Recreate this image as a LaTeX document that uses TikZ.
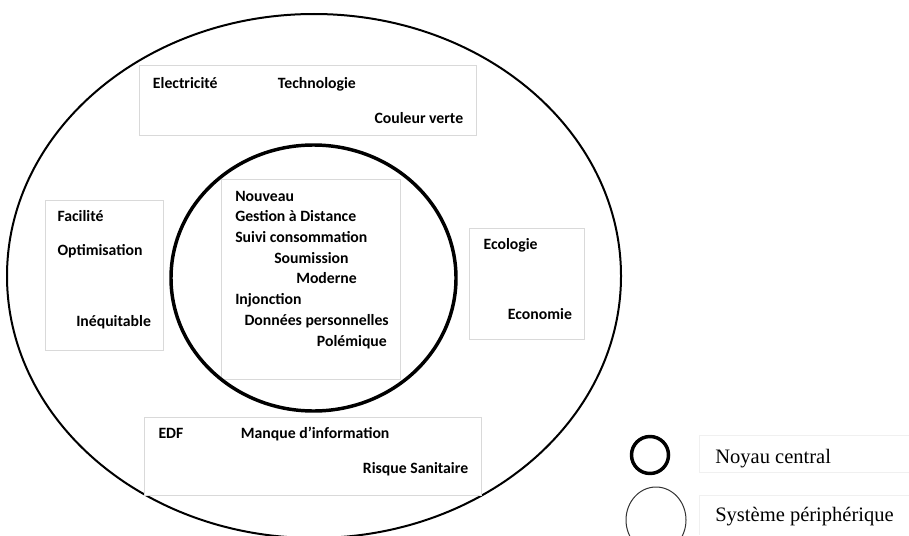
\documentclass[tikz,border=0pt]{standalone}
\usepackage{fontspec}
\setmainfont{Carlito}
\newfontfamily\legendfont{Liberation Serif}
\tikzset{
  mot/.style={anchor=base west, inner sep=0pt, font=\bfseries\fontsize{11.8}{14}\selectfont},
  cadre/.style={draw=black!15, fill=white, line width=0.75pt},
  legende/.style={anchor=base west, inner sep=0pt, font=\legendfont\fontsize{15.4}{18}\selectfont},
}
\begin{document}
\begin{tikzpicture}[x=0.75pt, y=-0.75pt]
            \useasboundingbox (0, 0) rectangle (909, 535);
            % systeme peripherique et noyau
            \draw[line width=1.5pt] (314, 276) ellipse [x radius=307, y radius=262];
            \draw[cadre] (139, 66) rectangle (476, 135);
            \draw[cadre] (45, 200) rectangle (163, 350);
            \draw[cadre] (469, 228) rectangle (584, 339);
            \draw[cadre] (144, 417) rectangle (481, 495);
            \draw[cadre] (221, 179) rectangle (400, 379);
            \draw[line width=2.6pt] (313.5, 278) ellipse [x radius=142.5, y radius=133];
            % haut
            \node[mot] (elec) at (152.7, 88.3) {Electricité};
            \node[mot] (techno) at (277.7, 88.3) {Technologie};
            \node[mot] (vert) at (374.3, 123.3) {Couleur verte};
            % gauche
            \node[mot] (facil) at (57.3, 221.7) {Facilité};
            \node[mot] (optim) at (57.3, 255) {Optimisation};
            \node[mot] (inequ) at (76, 326.7) {Inéquitable};
            % droite
            \node[mot] (ecolo) at (483.3, 249.3) {Ecologie};
            \node[mot] (econo) at (507.7, 319.3) {Economie};
            % bas
            \node[mot] (edf) at (158.3, 438.3) {EDF};
            \node[mot] (manque) at (240.7, 438.3) {Manque d’information};
            \node[mot] (risque) at (362.7, 473.3) {Risque Sanitaire};
            % noyau central
            \node[mot] (nouveau) at (235, 201.7) {Nouveau};
            \node[mot] (gestion) at (235, 221.7) {Gestion à Distance};
            \node[mot] (suivi) at (235, 242.7) {Suivi consommation};
            \node[mot] (soumis) at (274, 263.3) {Soumission};
            \node[mot] (moderne) at (296, 283.3) {Moderne};
            \node[mot] (injonc) at (235, 304) {Injonction};
            \node[mot] (donnees) at (244.3, 325) {Données personnelles};
            \node[mot] (polem) at (316.7, 346) {Polémique};
            % legende
            \draw[draw=black!6, line width=0.75pt] (909, 435) -- (699, 435) -- (699, 472) -- (909, 472);
            \draw[draw=black!6, line width=0.75pt] (909, 495) -- (699, 495) -- (699, 535);
            \draw[line width=2.6pt] (650, 455) circle [radius=18.5];
            \draw[draw=black!80, line width=0.75pt] (656, 520) ellipse [x radius=30, y radius=33];
            \node[legende] (noyau) at (715, 463.3) {Noyau central};
            \node[legende] (periph) at (715, 521.7) {Système périphérique};
\end{tikzpicture}
\end{document}
